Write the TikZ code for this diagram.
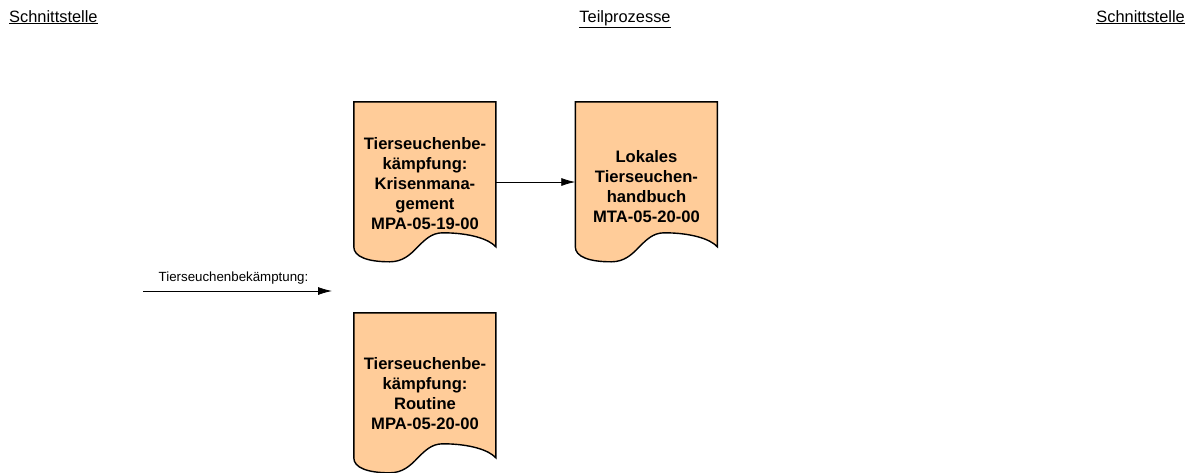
\documentclass[tikz,border=0pt]{standalone}
\usepackage{fontspec}
\setmainfont{Liberation Sans}
\usetikzlibrary{arrows.meta}

\definecolor{dokfarbe}{HTML}{FFCC99}

% outline of a document symbol, drawn round a named node
\newcommand{\dokrand}[1]{%
  \begin{scope}[shift={(#1.north west)}]
    \draw[dokrand] (0,0) -- (142,0) -- (142,145)
      .. controls (135,137) and (115,131) .. (89,131)
      .. controls (66,131) and (62,160) .. (36,160)
      .. controls (14,160) and (0,155) .. (0,145) -- cycle;
  \end{scope}}

\tikzset{
  dokrand/.style={fill=dokfarbe, draw=black, line width=1.4pt},
  dok/.style={minimum width=142pt, minimum height=160pt, inner sep=0pt,
              align=center, font=\fontsize{16.6}{20}\selectfont\bfseries},
  kopf/.style={font=\fontsize{16.4}{18}\selectfont, inner sep=0pt},
  pfeil/.style={-{Latex[length=14pt,width=8pt]}, line width=0.8pt}
}

\begin{document}
\begin{tikzpicture}[x=1pt,y=-1pt]

            \useasboundingbox (0,0) rectangle (1195,472);

            % column headings
            \node[kopf, anchor=base west] (links) at (9,22) {\underline{Schnittstelle}};
            \node[kopf, anchor=base] (mitte) at (625,22) {\underline{Teilprozesse}};
            \node[kopf, anchor=base east] (rechts) at (1185,22) {\underline{Schnittstelle}};

            % empty nodes carrying the texts, outlines drawn behind them
            \node[dok] (krise) at (425,182) {};
            \node[dok] (handbuch) at (646.5,182) {};
            \node[dok] (routine) at (425,393) {};

            \foreach \n in {krise, handbuch, routine} {
                \dokrand{\n}
            }

            \node[dok] at ([yshift=-2pt]krise) {Tierseuchenbe-\\k\"ampfung:\\Krisenmana-\\gement\\MPA-05-19-00};
            \node[dok] at ([yshift=-5pt]handbuch) {Lokales\\Tierseuchen-\\handbuch\\MTA-05-20-00};
            \node[dok] at ([yshift=-1pt]routine) {Tierseuchenbe-\\k\"ampfung:\\Routine\\MPA-05-20-00};

            % connectors
            \draw[pfeil] (krise) -- (handbuch);

            \coordinate (ein) at (143,291);
            \coordinate (aus) at (332,291);
            \draw[pfeil] (ein) -- (aus)
                node[midway, above=3pt, xshift=-4pt, font=\fontsize{13.3}{15}\selectfont] (pfeiltext) {Tierseuchenbek\"amptung:};

\end{tikzpicture}
\end{document}
